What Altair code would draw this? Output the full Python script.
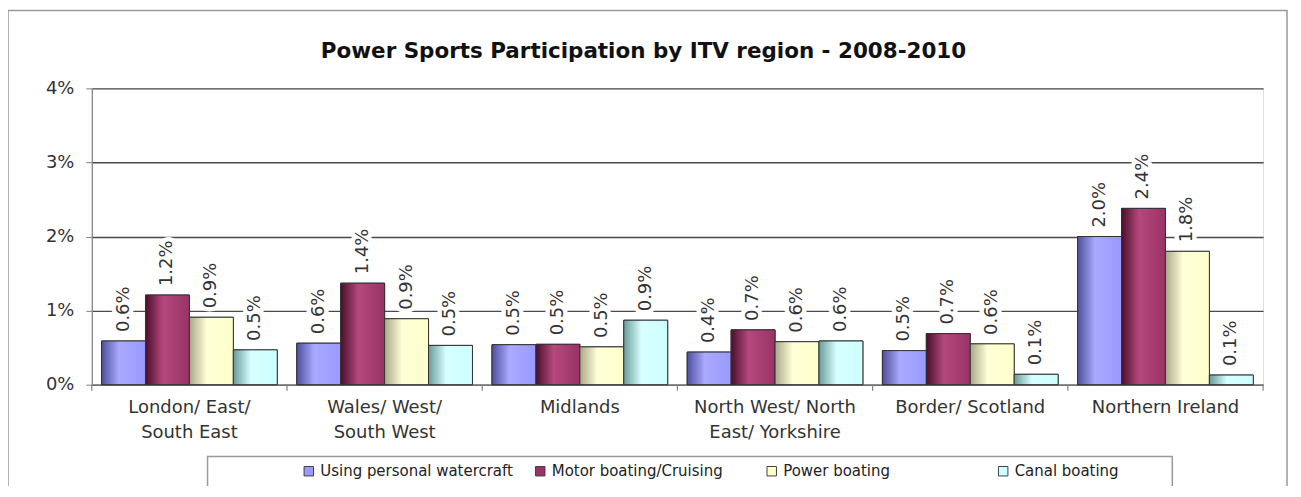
import altair as alt
import pandas as pd

regions = ["London/ East/\nSouth East", "Wales/ West/\nSouth West", "Midlands",
           "North West/ North\nEast/ Yorkshire", "Border/ Scotland", "Northern Ireland"]
series = ["Using personal watercraft", "Motor boating/Cruising", "Power boating", "Canal boating"]
watercraft = [0.0059, 0.0056, 0.0054, 0.0044, 0.0046, 0.0200]
motor = [0.0121, 0.0137, 0.00545, 0.0074, 0.0069, 0.0238]
power = [0.0091, 0.0089, 0.0051, 0.0058, 0.00551, 0.0180]
canal = [0.0047, 0.0053, 0.0087, 0.0059, 0.0014, 0.0013]
colors = ["#9999FF", "#993366", "#FFFFCC", "#CCFFFF"]
dark = ["#4f4f9c", "#4a0f2c", "#a9a98a", "#6a9a9a"]
light = ["#aaaaff", "#b5487c", "#ffffd8", "#d8ffff"]
title = ["Power Sports Participation by ITV region - 2008-2010"]

rows = []
for s, vals in zip(series, [watercraft, motor, power, canal]):
    for r, v in zip(regions, vals):
        rows.append({"region": r, "series": s, "value": v})
df = pd.DataFrame(rows)

W, H = 1174, 297
FONT = "DejaVu Sans"

x_enc = alt.X("region:N", sort=regions, title=None,
              scale=alt.Scale(paddingInner=0.1, paddingOuter=0.05),
              axis=alt.Axis(labelAngle=0, ticks=False, labelExpr="split(datum.label, '\\n')",
                            labelLineHeight=25, labelPadding=14, labelBaseline="top",
                            labelFont=FONT, labelFontSize=18, labelColor="#333333",
                            domainColor="#808080", domainWidth=1.2, grid=False))
xo_enc = alt.XOffset("series:N", sort=series,
                     scale=alt.Scale(domain=series, paddingInner=0, paddingOuter=0))
y_enc = alt.Y("value:Q", title=None, scale=alt.Scale(domain=[0, 0.04]),
              axis=alt.Axis(values=[0, 0.01, 0.02, 0.03, 0.04], format=".0%",
                            labelFont=FONT, labelFontSize=18, labelColor="#333333",
                            labelPadding=12, tickSize=6, tickColor="#808080",
                            domainColor="#808080", domainWidth=1.2,
                            grid=True, gridColor="#4a4a4a", gridWidth=1.4))

base = alt.Chart(df)

halo = base.mark_text(angle=270, align="left", baseline="middle", dx=9, font=FONT,
                      fontSize=18, stroke="white", strokeWidth=9, fill="white",
                      strokeJoin="round").encode(
    x=x_enc, xOffset=xo_enc, y=y_enc, text=alt.Text("value:Q", format=".1%"))

bars = base.mark_bar(stroke="#333333", strokeWidth=1).encode(
    x=x_enc, xOffset=xo_enc, y=y_enc,
    color=alt.Color("series:N", sort=series, title=None,
                    scale=alt.Scale(domain=series, range=colors),
                    legend=alt.Legend(orient="none", legendX=210, legendY=376,
                                      direction="horizontal", gridAlign="all",
                                      columnPadding=19, symbolType="square",
                                      symbolSize=90, symbolStrokeColor="#404040",
                                      symbolStrokeWidth=1, labelFont=FONT,
                                      labelFontSize=15, labelColor="#222222",
                                      labelLimit=400, labelOffset=4, padding=0)))

grad_layers = []
for s, c, d, l in zip(series, colors, dark, light):
    g = alt.Gradient(gradient="linear", x1=0, x2=1, y1=0, y2=0,
                     stops=[alt.GradientStop(offset=0, color=d),
                            alt.GradientStop(offset=0.4, color=l),
                            alt.GradientStop(offset=1, color=c)])
    grad_layers.append(
        base.transform_filter(alt.datum.series == s)
        .mark_bar(fill=g, stroke="#333333", strokeWidth=1)
        .encode(x=x_enc, xOffset=xo_enc, y=y_enc))

labels = base.mark_text(angle=270, align="left", baseline="middle", dx=9, font=FONT,
                        fontSize=18, color="#333333").encode(
    x=x_enc, xOffset=xo_enc, y=y_enc, text=alt.Text("value:Q", format=".1%"))

ticks = alt.Chart(pd.DataFrame({"region": regions})).mark_rule(
    color="#808080", strokeWidth=1.2, xOffset=-9.8).encode(
    x=alt.X("region:N", sort=regions, bandPosition=0),
    y=alt.value(H), y2=alt.value(H + 6))

one = pd.DataFrame({"a": [0]})
end_tick = alt.Chart(one).mark_rule(color="#808080", strokeWidth=1.2).encode(
    x=alt.value(W), y=alt.value(H), y2=alt.value(H + 6))
frame = alt.Chart(one).mark_rect(fillOpacity=0, stroke="#9a9a9a", strokeWidth=1.5).encode(
    x=alt.value(-84), x2=alt.value(1198), y=alt.value(-78), y2=alt.value(440))
legend_box = alt.Chart(one).mark_rect(fillOpacity=0, stroke="#9a9a9a", strokeWidth=1.5).encode(
    x=alt.value(116), x2=alt.value(1083), y=alt.value(369), y2=alt.value(440))
title_mark = alt.Chart(pd.DataFrame({"t": title})).mark_text(
    font=FONT, fontSize=21.5, fontWeight="bold", color="#111111",
    align="center", baseline="middle").encode(
    text="t:N", x=alt.value(553), y=alt.value(-36))

chart = alt.layer(halo, bars, *grad_layers, labels, ticks, end_tick, frame, legend_box,
                  title_mark).properties(
    width=W, height=H,
    autosize=alt.AutoSizeParams(type="none"),
    padding={"left": 84, "top": 80, "right": 30, "bottom": 101},
).configure_view(stroke="#808080", strokeWidth=1.2).configure(background="white")

chart.save("out.html", embed_options={"renderer": "svg", "actions": False})
